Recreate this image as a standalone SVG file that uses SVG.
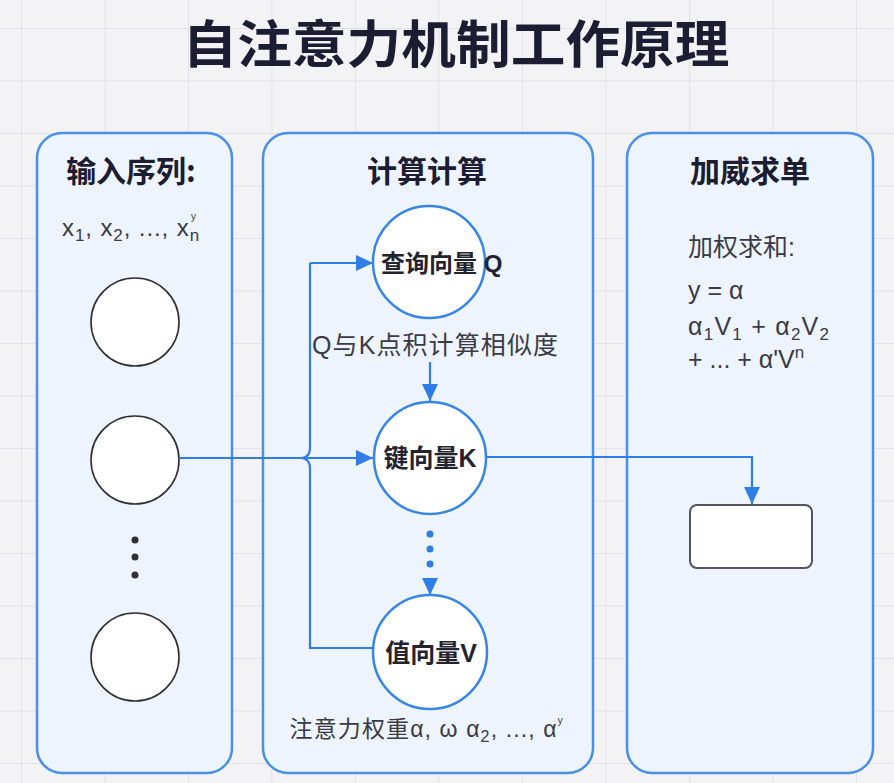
<svg xmlns="http://www.w3.org/2000/svg" width="894" height="783" viewBox="0 0 894 783">
<defs>
<pattern id="grid" patternUnits="userSpaceOnUse" x="21" y="28" width="83.5" height="52.5">
<path d="M0,0 H83.5 M0,0 V52.5" fill="none" stroke="#dcdce1" stroke-width="1.3"/>
</pattern>
<marker id="ah" markerUnits="userSpaceOnUse" markerWidth="18" markerHeight="18" refX="17" refY="8" orient="auto">
<path d="M0,0 L17,8 L0,16 z" fill="#2f7de6"/>
</marker>
</defs>
<style>
.panel{fill:#edf4fd;stroke:#4a8fe8;stroke-width:2.5}
.in{fill:#ffffff;stroke:#2f2f35;stroke-width:1.6}
.mid{fill:#ffffff;stroke:#3585ea;stroke-width:2.5}
.conn{fill:none;stroke:#2f7de6;stroke-width:2.2}
.h{font-family:"Noto Sans CJK SC",sans-serif;font-weight:bold;fill:#1c1c33}
.t{font-family:"Liberation Sans","Noto Sans CJK SC",sans-serif;fill:#3a3a46}
.n{font-family:"Liberation Sans","Noto Sans CJK SC",sans-serif;font-weight:bold;fill:#23232f}
</style>
<rect width="894" height="783" fill="#f3f3f5"/>
<rect width="894" height="783" fill="url(#grid)"/>

<text class="h" x="456" y="63" font-size="51" text-anchor="middle" textLength="547" lengthAdjust="spacingAndGlyphs">自注意力机制工作原理</text>

<g id="panel-input">
<rect class="panel" x="37" y="133" width="195" height="640" rx="25"/>
<text class="h" x="131" y="182" font-size="30" text-anchor="middle">输入序列:</text>
<text class="t" x="62" y="236" font-size="24" textLength="138" lengthAdjust="spacing">x<tspan font-size="17" dy="5">1</tspan><tspan dy="-5">, x</tspan><tspan font-size="17" dy="5">2</tspan><tspan dy="-5">, ..., x</tspan><tspan font-size="17" dy="5">n</tspan><tspan font-size="15" dx="-9" dy="-18">ʸ</tspan></text>
</g>
<g id="node-x1"><circle class="in" cx="135" cy="322" r="44"/></g>
<g id="node-x2"><circle class="in" cx="135" cy="460" r="44"/></g>
<g id="node-dots">
<circle cx="135" cy="540" r="3.5" fill="#2f2f35"/>
<circle cx="135" cy="557" r="3.5" fill="#2f2f35"/>
<circle cx="135" cy="575" r="3.5" fill="#2f2f35"/>
</g>
<g id="node-xn"><circle class="in" cx="135" cy="657" r="44"/></g>

<g id="panel-compute">
<rect class="panel" x="263" y="133" width="330" height="640" rx="25"/>
<text class="h" x="427" y="182" font-size="30" text-anchor="middle">计算计算</text>
<text class="t" x="435" y="354" font-size="25" text-anchor="middle" textLength="246" lengthAdjust="spacing">Q与K点积计算相似度</text>
<text class="t" x="426" y="737" font-size="23" text-anchor="middle" textLength="273" lengthAdjust="spacing">注意力权重α, ω α<tspan font-size="16" dy="5">2</tspan><tspan dy="-5">, ..., α</tspan><tspan font-size="15" dy="-10">ʸ</tspan></text>
</g>

<g id="panel-sum">
<rect class="panel" x="627" y="133" width="246" height="640" rx="25"/>
<text class="h" x="750" y="182" font-size="30" text-anchor="middle">加威求单</text>
<text class="t" x="688" y="256" font-size="25">加权求和:</text>
<text class="t" x="688" y="299" font-size="25">y = α</text>
<text class="t" x="688" y="335" font-size="25" textLength="141" lengthAdjust="spacing">α<tspan font-size="17" dy="5">1</tspan><tspan dy="-5">V</tspan><tspan font-size="17" dy="5">1</tspan><tspan dy="-5"> + α</tspan><tspan font-size="17" dy="5">2</tspan><tspan dy="-5">V</tspan><tspan font-size="17" dy="5">2</tspan></text>
<text class="t" x="688" y="368" font-size="25">+ ... + α'V<tspan font-size="17" dy="-10">n</tspan></text>
</g>

<g id="connectors">
<path class="conn" d="M179,458 H373" marker-end="url(#ah)"/>
<path class="conn" d="M310,263 H373" marker-end="url(#ah)"/>
<path class="conn" d="M310,263 V448 Q310,457 302,458 Q310,459 310,468 V648 H374"/>
<path class="conn" d="M487,457 H752 V504" marker-end="url(#ah)"/>
<path class="conn" d="M430,362 V401" marker-end="url(#ah)"/>
<circle cx="430" cy="534" r="3.5" fill="#2f7de6"/>
<circle cx="430" cy="549" r="3.5" fill="#2f7de6"/>
<circle cx="430" cy="564" r="3.5" fill="#2f7de6"/>
<path class="conn" d="M430,582 V595" marker-end="url(#ah)"/>
</g>

<g id="node-q">
<circle class="mid" cx="429" cy="262" r="56"/>
<text class="n" x="381" y="272" font-size="24">查询向量 Q</text>
</g>
<g id="node-k">
<circle class="mid" cx="430" cy="458" r="56"/>
<text class="n" x="430" y="467" font-size="25" text-anchor="middle">键向量K</text>
</g>
<g id="node-v">
<circle class="mid" cx="430" cy="652" r="57"/>
<text class="n" x="431" y="662" font-size="25" text-anchor="middle">值向量V</text>
</g>
<g id="node-out">
<rect x="690" y="505" width="122" height="63" rx="7" fill="#ffffff" stroke="#55555c" stroke-width="2"/>
</g>
</svg>
